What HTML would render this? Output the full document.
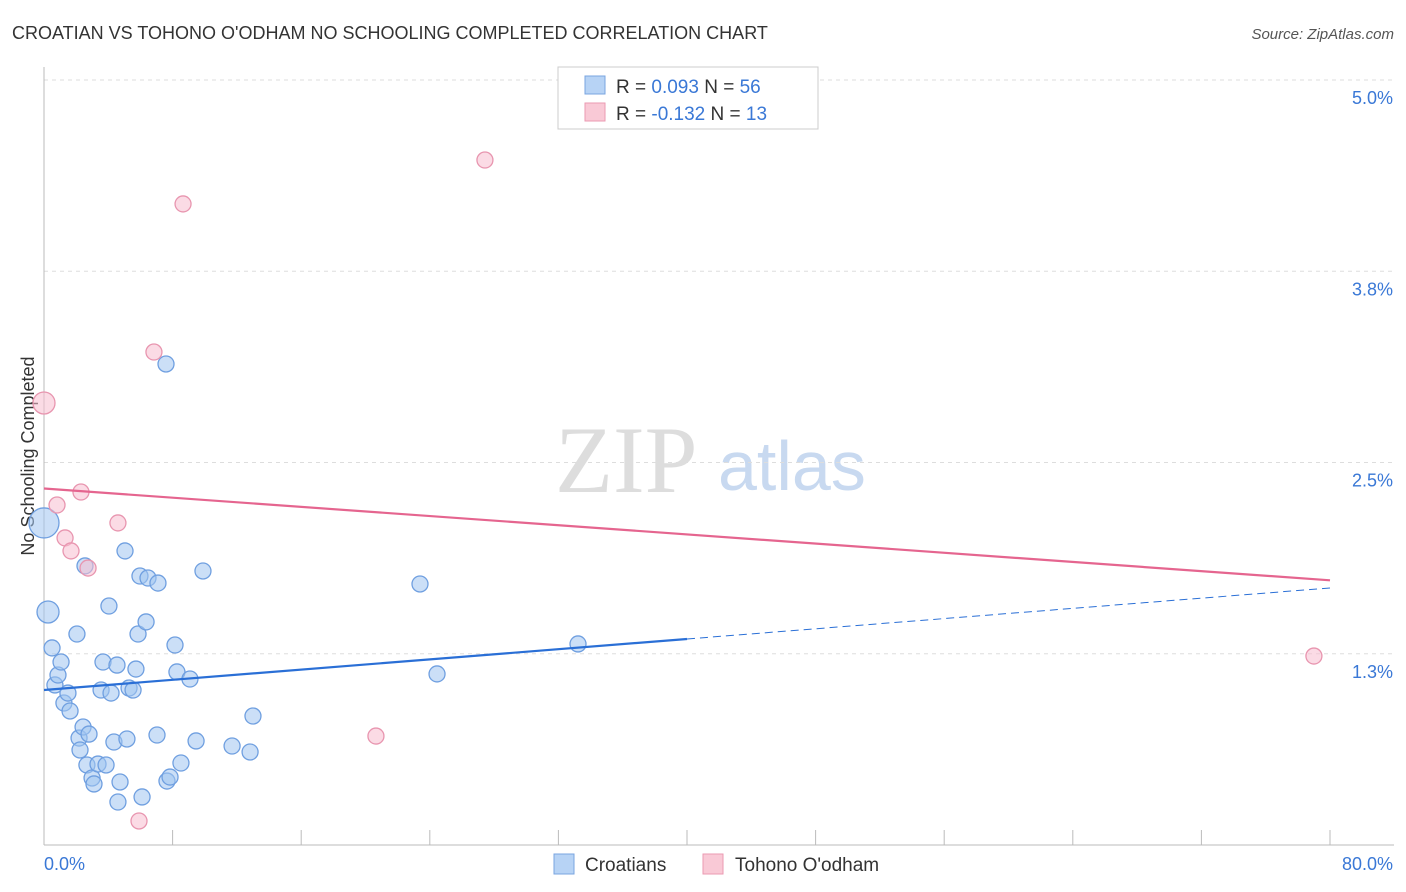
<!DOCTYPE html>
<html><head><meta charset="utf-8"><style>
body{margin:0;background:#fff;font-family:"Liberation Sans",sans-serif;}
svg{display:block}
</style></head><body>
<svg id="c" width="1406" height="892">
<text x="12" y="39" font-size="18" fill="#333">CROATIAN VS TOHONO O'ODHAM NO SCHOOLING COMPLETED CORRELATION CHART</text>
<text x="1394" y="39" font-size="15" fill="#555" font-style="italic" text-anchor="end">Source: ZipAtlas.com</text>
<text x="34" y="456" font-size="18" fill="#333" text-anchor="middle" transform="rotate(-90 34 456)">No Schooling Completed</text>
<text x="555" y="492" font-size="95" fill="#ddd" font-family="Liberation Serif,serif">ZIP</text>
<text x="718" y="490" font-size="70" fill="#c8d9f0">atlas</text>
<g id="grid"></g><g id="axes"></g><g id="marks"></g>
<g>
<rect x="558" y="67" width="260" height="62" fill="#fff" stroke="#ccc"/>
<rect x="585" y="76" width="20" height="18" fill="#b7d3f5" stroke="#7aa5e0"/>
<rect x="585" y="103" width="20" height="18" fill="#f9c9d6" stroke="#eb9ab2"/>
<text x="616" y="93" font-size="19" fill="#333">R = <tspan fill="#3a78d6">0.093</tspan>   N = <tspan fill="#3a78d6">56</tspan></text>
<text x="616" y="120" font-size="19" fill="#333">R = <tspan fill="#3a78d6">-0.132</tspan>   N = <tspan fill="#3a78d6"> 13</tspan></text>
</g>
<g>
<rect x="554" y="854" width="20" height="20" fill="#b7d3f5" stroke="#7aa5e0"/>
<text x="585" y="871" font-size="19" fill="#333">Croatians</text>
<rect x="703" y="854" width="20" height="20" fill="#f9c9d6" stroke="#eb9ab2"/>
<text x="735" y="871" font-size="19" fill="#333">Tohono O'odham</text>
</g>
</svg>
<script>
const xTicks=[0,8,16,24,32,40,48,56,64,72,80];
const yTicks=[1.25,2.5,3.75,5.0];
const yTickLabels=["1.3%","2.5%","3.8%","5.0%"];
const croX=[0,0.25,0.5,0.68,0.87,1.06,1.24,1.49,1.62,2.05,2.18,2.24,2.43,2.55,2.8,2.67,2.99,3.11,3.36,3.55,3.67,3.86,4.04,4.17,4.35,4.54,4.73,4.6,5.04,5.16,5.29,5.54,5.72,5.85,5.97,6.1,6.35,6.47,7.03,7.09,7.65,7.84,7.59,8.15,8.27,8.52,9.08,9.46,9.89,11.7,12.82,13.0,23.39,24.45,33.22];
const croY=[2.105,1.523,1.288,1.046,1.111,1.196,0.928,0.993,0.876,1.379,0.699,0.621,0.771,1.824,0.725,0.523,0.438,0.399,0.529,1.013,1.196,0.523,1.562,0.993,0.673,1.176,0.412,0.281,1.922,0.693,1.026,1.013,1.15,1.379,1.758,0.314,1.458,1.745,0.719,1.712,0.418,0.444,3.144,1.307,1.131,0.536,1.085,0.68,1.791,0.647,0.608,0.843,1.706,1.118,1.314];
const croR=[15,11];
const tohX=[0,0.81,1.31,1.68,2.3,2.74,4.6,5.91,6.84,8.65,20.65,27.43,79.0];
const tohY=[2.889,2.222,2.007,1.922,2.307,1.81,2.105,0.157,3.222,4.19,0.712,4.477,1.235];
const tohR=[11];
const croTrend=[1.013,1.68]; // y at x=0 and x=80
const tohTrend=[2.33,1.73];
const NS="http://www.w3.org/2000/svg";
const X=v=>44+v/80*1286, Y=v=>845-v*153;
function mk(t,a,p){const e=document.createElementNS(NS,t);for(const k in a)e.setAttribute(k,a[k]);p.appendChild(e);return e;}
const grid=document.getElementById('grid'),axes=document.getElementById('axes'),marks=document.getElementById('marks');
yTicks.forEach((t,i)=>{
 const l=mk('line',{x1:44,x2:1394,y1:Y(t),y2:Y(t),stroke:'#ddd','stroke-dasharray':'4 4'},grid);
 
 
 const tx=mk('text',{x:1393,y:Y(t)+24,'font-size':18,fill:'#3a78d6','text-anchor':'end'},axes);
 tx.textContent=yTickLabels[i];
 
 
});
mk('line',{x1:44,x2:44,y1:67,y2:845,stroke:'#bbb'},axes);
mk('line',{x1:44,x2:1394,y1:845,y2:845,stroke:'#bbb'},axes);
xTicks.forEach(t=>{const l=mk('line',{x1:X(t),x2:X(t),y1:830,y2:845,stroke:'#bbb'},axes);
 
 });
let a=mk('text',{x:44,y:870,'font-size':18,fill:'#3a78d6'},axes);a.textContent='0.0%';


a=mk('text',{x:1393,y:870,'font-size':18,fill:'#3a78d6','text-anchor':'end'},axes);a.textContent='80.0%';


croX.forEach((x,i)=>{const c=mk('circle',{cx:X(x),cy:Y(croY[i]),r:croR[i]||8,fill:'rgba(160,196,240,0.55)',stroke:'#6f9fe0','stroke-width':1.3},marks);
 
 });
tohX.forEach((x,i)=>{const c=mk('circle',{cx:X(x),cy:Y(tohY[i]),r:tohR[i]||8,fill:'rgba(248,190,208,0.55)',stroke:'#e895af','stroke-width':1.3},marks);
 
 });
const cy=x=>croTrend[0]+(croTrend[1]-croTrend[0])*x/80;
let t=mk('line',{x1:X(0),y1:Y(cy(0)),x2:X(40),y2:Y(cy(40)),stroke:'#2a6fd6','stroke-width':2.2},marks);


t=mk('line',{x1:X(40),y1:Y(cy(40)),x2:X(80),y2:Y(cy(80)),stroke:'#2a6fd6','stroke-width':1,'stroke-dasharray':'8 5'},marks);


t=mk('line',{x1:X(0),y1:Y(tohTrend[0]),x2:X(80),y2:Y(tohTrend[1]),stroke:'#e5658f','stroke-width':2.2},marks);


</script>
</body></html>
